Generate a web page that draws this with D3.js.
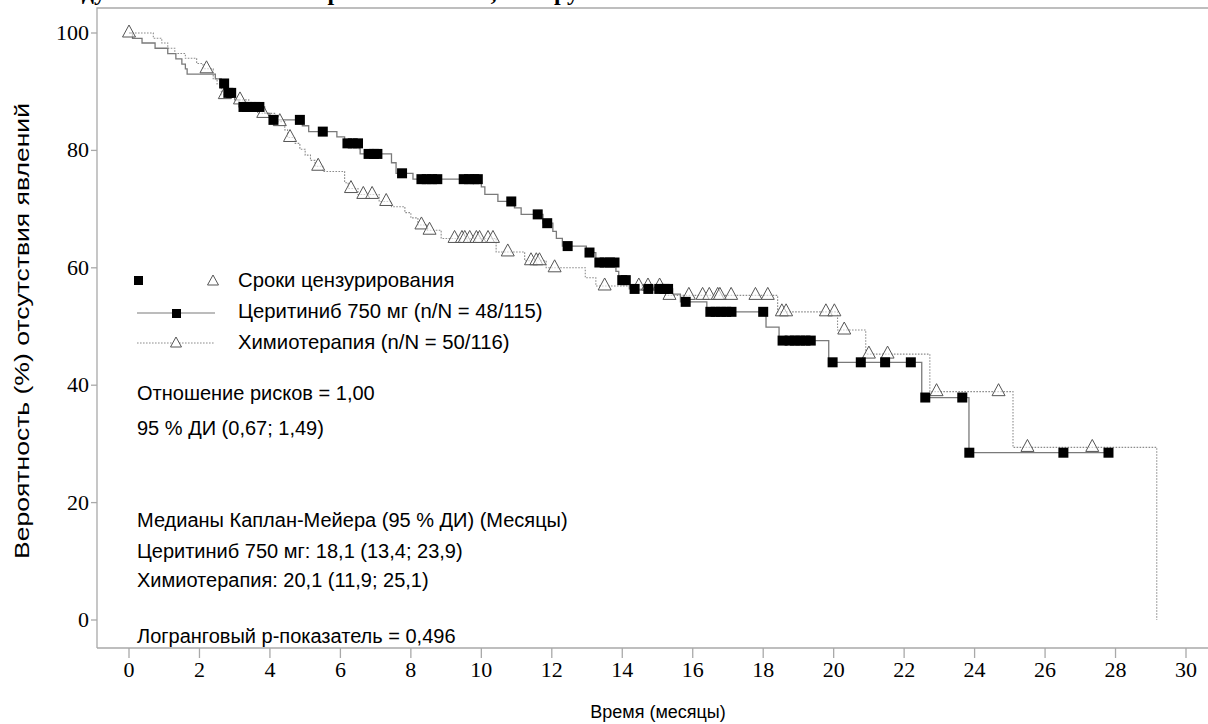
<!DOCTYPE html>
<html>
<head>
<meta charset="utf-8">
<script src="https://cdn.jsdelivr.net/npm/d3@7"></script>
<style>
  body { margin: 0; background: #fff; }
  svg { display: block; }
</style>
</head>
<body>
<svg id="chart" width="1208" height="724"></svg>
<script>
// ---- data ----
// Ceritinib 750 mg: step times (months) and survival (%)
const ceritTimes = [0, 0.1, 0.37, 0.74, 1.1, 1.33, 1.5, 1.6, 1.65, 2.45, 2.62, 2.75, 3.0, 3.12, 3.85, 4.0,
  4.92, 5.1, 5.9, 6.12, 6.53, 6.56, 7.45, 7.58, 8.06, 10.0, 10.1, 10.47, 10.94, 11.13, 11.75, 12.03,
  12.13, 12.3, 12.98, 13.25, 13.82, 13.9, 14.2, 15.43, 15.65, 16.4, 18.08, 18.45, 19.86, 22.5, 23.84, 27.85];
const ceritSurv = [100, 99.1, 98.3, 97.4, 96.5, 95.6, 94.7, 93.9, 93.0, 92.2, 91.4, 89.8, 88.6, 87.4, 86.3, 85.2,
  84.2, 83.2, 82.3, 81.2, 80.3, 79.4, 77.9, 76.1, 75.1, 73.8, 72.5, 71.3, 70.2, 69.1, 67.6, 66.2,
  65.0, 63.7, 62.6, 60.9, 59.4, 57.9, 56.4, 55.5, 54.2, 52.5, 49.9, 47.6, 43.9, 37.9, 28.5, 28.5];
const ceritCensor = [2.7, 2.82, 2.9, 3.25, 3.35, 3.45, 3.58, 3.7, 4.1, 4.85, 5.5, 6.2, 6.35, 6.5, 6.8, 6.95, 7.05,
  7.75, 8.3, 8.45, 8.6, 8.75, 9.5, 9.65, 9.8, 9.9, 10.85, 11.6, 11.87, 12.45, 13.07, 13.35, 13.5, 13.65, 13.78,
  14.0, 14.1, 14.35, 14.74, 15.05, 15.2, 15.3, 15.8, 16.5, 16.65, 16.8, 16.95, 17.1, 18.0,
  18.55, 18.75, 18.9, 19.05, 19.2, 19.35, 19.97, 20.77, 21.46, 22.19, 22.6, 23.65, 23.85, 26.52, 27.8];

// Chemotherapy
const chemoTimes = [0, 0.69, 0.93, 1.1, 1.3, 1.6, 1.92, 2.1, 2.39, 2.5, 2.62, 3.0, 3.4, 3.65, 4.15, 4.42, 4.5,
  4.7, 4.85, 5.0, 5.15, 5.28, 5.5, 6.12, 6.22, 6.5, 7.1, 7.45, 7.83, 8.0, 8.2, 8.45, 8.86, 10.42, 11.23,
  11.84, 12.95, 13.25, 15.2, 18.41, 20.11, 20.91, 22.73, 25.09, 29.17];
const chemoSurv = [100, 99.1, 98.3, 97.4, 96.5, 95.7, 94.8, 93.9, 92.2, 91.3, 89.5, 88.6, 87.7, 86.3, 84.9, 83.5, 82.2,
  81.2, 80.2, 79.2, 78.3, 77.3, 76.4, 74.5, 73.5, 72.5, 71.3, 70.4, 69.4, 68.5, 67.3, 66.4, 65.0, 62.7, 61.2,
  60.0, 58.3, 56.9, 55.3, 52.5, 49.4, 45.3, 38.9, 29.4, 0];
const chemoCensor = [0.0, 2.2, 2.72, 3.15, 3.81, 4.28, 4.57, 5.37, 6.3, 6.65, 6.9, 7.3, 8.3, 8.53,
  9.24, 9.45, 9.53, 9.67, 9.86, 9.95, 10.19, 10.33, 10.75, 11.41, 11.56, 11.65, 12.08, 13.5, 14.47, 14.73, 15.06,
  15.34, 15.89, 16.28, 16.47, 16.71, 16.77, 17.09, 17.78, 18.13, 18.53, 18.65, 19.78, 20.02, 20.3, 21.0, 21.53,
  22.92, 24.68, 25.5, 27.34];

const xTicks = d3.range(0, 31, 2);
const yTicks = [0, 20, 40, 60, 80, 100];

const legendLabels = ["Сроки цензурирования", "Церитиниб 750 мг (n/N = 48/115)", "Химиотерапия (n/N = 50/116)"];
const notes = [
  {text: "Отношение рисков = 1,00", y: 400},
  {text: "95 % ДИ (0,67; 1,49)", y: 435},
  {text: "Медианы Каплан-Мейера (95 % ДИ) (Месяцы)", y: 527},
  {text: "Церитиниб 750 мг: 18,1 (13,4; 23,9)", y: 558},
  {text: "Химиотерапия: 20,1 (11,9; 25,1)", y: 587},
  {text: "Логранговый р-показатель = 0,496", y: 643}
];

// ---- layout ----
const axisLeft = 97, axisBottom = 648, frameTop = 8;
const x = d3.scaleLinear().domain([0, 30]).range([129, 1186]);
const y = d3.scaleLinear().domain([0, 100]).range([620, 33]);

const svg = d3.select("#chart");
const serif = "'Liberation Serif', 'Times New Roman', serif";
const sans = "'Liberation Sans', Arial, sans-serif";

// heading, almost entirely above the top edge
svg.append("text")
  .attr("y", 0)
  .attr("font-family", serif).attr("font-weight", "bold").attr("font-size", 24)
  .selectAll("tspan")
  .data([{t: "Исследуемый показатель", x: 18}, {t: "первичной точки,", x: 303}, {t: "группа", x: 543}])
  .join("tspan")
  .attr("x", d => d.x)
  .text(d => d.t);

// frame
const frameColor = "#a9a9a9";
svg.append("path")
  .attr("d", `M${axisLeft},${axisBottom}V${frameTop}H1208`)
  .attr("fill", "none").attr("stroke", frameColor).attr("stroke-width", 1.3);
svg.append("line")
  .attr("x1", axisLeft).attr("x2", 1208).attr("y1", axisBottom).attr("y2", axisBottom)
  .attr("stroke", frameColor).attr("stroke-width", 1.3);

// y ticks
const gy = svg.append("g");
gy.selectAll("line").data(yTicks).join("line")
  .attr("x1", axisLeft - 6).attr("x2", axisLeft)
  .attr("y1", d => y(d)).attr("y2", d => y(d))
  .attr("stroke", frameColor).attr("stroke-width", 1.3);
gy.selectAll("text").data(yTicks).join("text")
  .attr("x", axisLeft - 8).attr("y", d => y(d) + 7)
  .attr("text-anchor", "end")
  .attr("font-family", serif).attr("font-size", 22)
  .text(d => d);

// x ticks
const gx = svg.append("g");
gx.selectAll("line").data(xTicks).join("line")
  .attr("x1", d => x(d)).attr("x2", d => x(d))
  .attr("y1", axisBottom).attr("y2", axisBottom + 10)
  .attr("stroke", frameColor).attr("stroke-width", 1.3);
gx.selectAll("text").data(xTicks).join("text")
  .attr("x", d => x(d)).attr("y", 677)
  .attr("text-anchor", "middle")
  .attr("font-family", serif).attr("font-size", 22)
  .text(d => d);

// axis titles
svg.append("text")
  .attr("x", 658).attr("y", 718)
  .attr("text-anchor", "middle")
  .attr("font-family", sans).attr("font-size", 18)
  .text("Время (месяцы)");
svg.append("text")
  .attr("transform", "translate(29,331) rotate(-90)")
  .attr("text-anchor", "middle")
  .attr("font-family", sans).attr("font-size", 20)
  .attr("textLength", 456).attr("lengthAdjust", "spacingAndGlyphs")
  .text("Вероятность (%) отсутствия явлений");

// ---- curves ----
function stepAt(times, surv, t) {
  let v = surv[0];
  for (let i = 0; i < times.length; i++) {
    if (times[i] <= t) v = surv[i]; else break;
  }
  return v;
}

const line = d3.line()
  .x(d => x(d[0]))
  .y(d => y(d[1]))
  .curve(d3.curveStepAfter);

const chemoColor = "#8c8c8c";
const ceritColor = "#7a7a7a";

svg.append("path")
  .datum(d3.zip(chemoTimes, chemoSurv))
  .attr("d", line)
  .attr("fill", "none")
  .attr("stroke", chemoColor).attr("stroke-width", 1.1)
  .attr("stroke-dasharray", "1.6,1.4");

svg.append("path")
  .datum(d3.zip(ceritTimes, ceritSurv))
  .attr("d", line)
  .attr("fill", "none")
  .attr("stroke", ceritColor).attr("stroke-width", 1.3);

// censor marks
const tri = (w, h) => `M0,${-h / 2}L${w / 2},${h / 2}L${-w / 2},${h / 2}Z`;

svg.append("g").selectAll("path")
  .data(chemoCensor)
  .join("path")
  .attr("transform", d => `translate(${x(d)},${y(stepAt(chemoTimes, chemoSurv, d)) - 2})`)
  .attr("d", tri(13, 12))
  .attr("fill", "#fff").attr("fill-opacity", 0.6)
  .attr("stroke", "#555").attr("stroke-width", 1);

svg.append("g").selectAll("rect")
  .data(ceritCensor)
  .join("rect")
  .attr("x", d => x(d) - 5)
  .attr("y", d => y(stepAt(ceritTimes, ceritSurv, d)) - 5)
  .attr("width", 10).attr("height", 10)
  .attr("fill", "#000");

// ---- legend ----
const lg = svg.append("g");
lg.append("rect").attr("x", 134).attr("y", 276).attr("width", 9).attr("height", 9).attr("fill", "#000");
lg.append("path").attr("transform", "translate(213,280)").attr("d", tri(11, 10))
  .attr("fill", "#fff").attr("stroke", "#555");
lg.append("line").attr("x1", 137).attr("x2", 215).attr("y1", 313).attr("y2", 313)
  .attr("stroke", ceritColor).attr("stroke-width", 1.2);
lg.append("rect").attr("x", 172).attr("y", 309).attr("width", 9).attr("height", 9).attr("fill", "#000");
lg.append("line").attr("x1", 137).attr("x2", 215).attr("y1", 343).attr("y2", 343)
  .attr("stroke", chemoColor).attr("stroke-width", 1).attr("stroke-dasharray", "1.6,1.4");
lg.append("path").attr("transform", "translate(176,342)").attr("d", tri(11, 10))
  .attr("fill", "#fff").attr("stroke", "#555");
lg.selectAll("text").data(legendLabels).join("text")
  .attr("x", 238).attr("y", (d, i) => 287 + i * 31)
  .attr("font-family", sans).attr("font-size", 20.3)
  .text(d => d);

// ---- notes ----
svg.append("g").selectAll("text")
  .data(notes)
  .join("text")
  .attr("x", 137).attr("y", d => d.y)
  .attr("font-family", sans).attr("font-size", 20)
  .text(d => d.text);
</script>
</body>
</html>
